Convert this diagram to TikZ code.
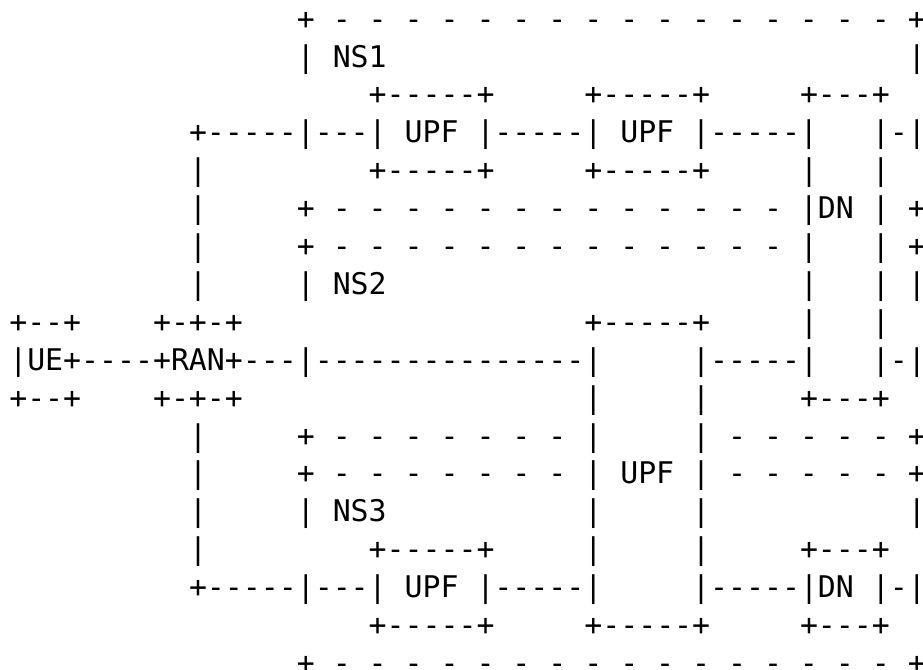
\documentclass[tikz,border=0pt]{standalone}
\usepackage{fontspec}
\setmonofont{DejaVu Sans Mono}
\newlength\cw
\setlength\cw{17.971pt}
\newcommand\gap[1]{\hspace*{#1\cw}}
\newcommand\sd{\gap{1}-}
\newcommand\sdfour{\sd\sd\sd\sd}
\newcommand\lastc[1]{\makebox[0.75\cw][l]{#1}}
\tikzset{asciirow/.style={anchor=base west, inner sep=0pt, outer sep=0pt, text=black,
  font=\ttfamily\fontsize{29.85pt}{37.9pt}\selectfont}}
\begin{document}
\begin{tikzpicture}[x=1pt,y=1pt]
\useasboundingbox[fill=white] (0,0) rectangle (923,-669);
\def\rx{9.3}
\node[asciirow] (r0)  at (\rx,{-29.1-0*37.9})  {\gap{16}+\sdfour\sdfour\sdfour\sdfour\gap{1}\lastc{+}};
\node[asciirow] (r1)  at (\rx,{-29.1-1*37.9})  {\gap{16}|\gap{1}NS1\gap{29}\lastc{|}};
\node[asciirow] (r2)  at (\rx,{-29.1-2*37.9})  {\gap{20}+-----+\gap{5}+-----+\gap{5}+---+};
\node[asciirow] (r3)  at (\rx,{-29.1-3*37.9})  {\gap{10}+-----|---|\gap{1}UPF\gap{1}|-----|\gap{1}UPF\gap{1}|-----|\gap{3}|-\lastc{|}};
\node[asciirow] (r4)  at (\rx,{-29.1-4*37.9})  {\gap{10}|\gap{9}+-----+\gap{5}+-----+\gap{5}|\gap{3}|};
\node[asciirow] (r5)  at (\rx,{-29.1-5*37.9})  {\gap{10}|\gap{5}+\sdfour\sdfour\sdfour\sd\gap{1}|DN\gap{1}|\gap{1}\lastc{+}};
\node[asciirow] (r6)  at (\rx,{-29.1-6*37.9})  {\gap{10}|\gap{5}+\sdfour\sdfour\sdfour\sd\gap{1}|\gap{3}|\gap{1}\lastc{+}};
\node[asciirow] (r7)  at (\rx,{-29.1-7*37.9})  {\gap{10}|\gap{5}|\gap{1}NS2\gap{23}|\gap{3}|\gap{1}\lastc{|}};
\node[asciirow] (r8)  at (\rx,{-29.1-8*37.9})  {+--+\gap{4}+-+-+\gap{19}+-----+\gap{5}|\gap{3}|};
\node[asciirow] (r9)  at (\rx,{-29.1-9*37.9})  {|UE+----+RAN+---|---------------|\gap{5}|-----|\gap{3}|-\lastc{|}};
\node[asciirow] (r10) at (\rx,{-29.1-10*37.9}) {+--+\gap{4}+-+-+\gap{19}|\gap{5}|\gap{5}+---+};
\node[asciirow] (r11) at (\rx,{-29.1-11*37.9}) {\gap{10}|\gap{5}+\sdfour\sd\sd\sd\gap{1}|\gap{5}|\sdfour\sd\gap{1}\lastc{+}};
\node[asciirow] (r12) at (\rx,{-29.1-12*37.9}) {\gap{10}|\gap{5}+\sdfour\sd\sd\sd\gap{1}|\gap{1}UPF\gap{1}|\sdfour\sd\gap{1}\lastc{+}};
\node[asciirow] (r13) at (\rx,{-29.1-13*37.9}) {\gap{10}|\gap{5}|\gap{1}NS3\gap{11}|\gap{5}|\gap{11}\lastc{|}};
\node[asciirow] (r14) at (\rx,{-29.1-14*37.9}) {\gap{10}|\gap{9}+-----+\gap{5}|\gap{5}|\gap{5}+---+};
\node[asciirow] (r15) at (\rx,{-29.1-15*37.9}) {\gap{10}+-----|---|\gap{1}UPF\gap{1}|-----|\gap{5}|-----|DN\gap{1}|-\lastc{|}};
\node[asciirow] (r16) at (\rx,{-29.1-16*37.9}) {\gap{20}+-----+\gap{5}+-----+\gap{5}+---+};
\node[asciirow] (r17) at (\rx,{-29.1-17*37.9}) {\gap{16}+\sdfour\sdfour\sdfour\sdfour\gap{1}\lastc{+}};
\end{tikzpicture}
\end{document}
